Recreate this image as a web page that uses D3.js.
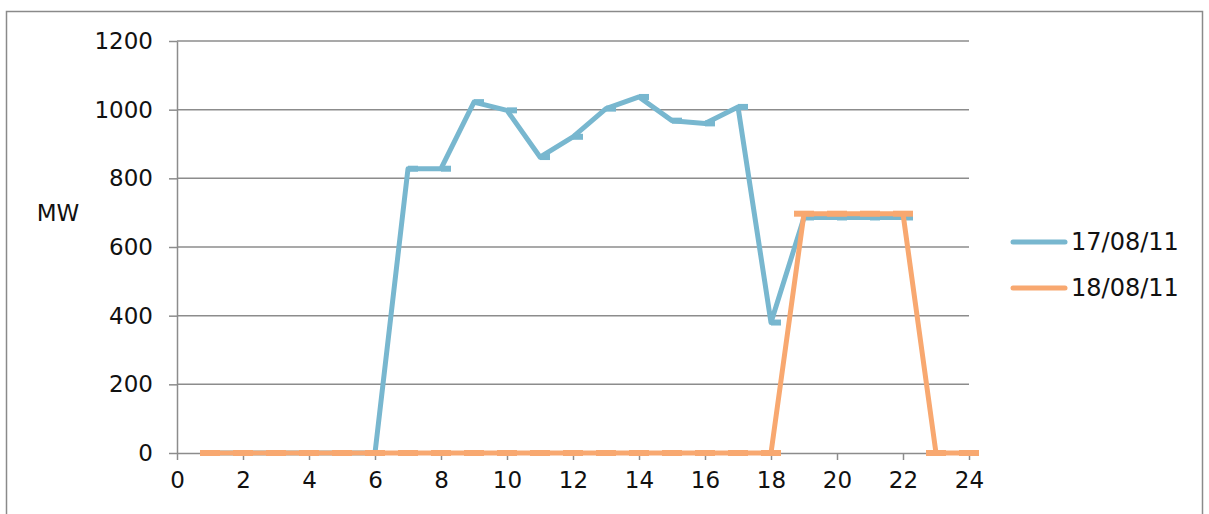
<!DOCTYPE html>
<html><head><meta charset="utf-8">
<script src="https://cdn.jsdelivr.net/npm/d3@7"></script>
<style>html,body{margin:0;padding:0;background:#fff;}svg{display:block;}</style>
</head><body>
<script>
const hours = [1,2,3,4,5,6,7,8,9,10,11,12,13,14,15,16,17,18,19,20,21,22,23,24];
const series1Name = "17/08/11";
const series1Values = [0,0,0,0,0,0,828,828,1022,998,862,921,1003,1037,968,960,1008,380,686,686,686,686,null,null];
const series2Name = "18/08/11";
const series2Values = [0,0,0,0,0,0,0,0,0,0,0,0,0,0,0,0,0,0,697,697,697,697,0,0];
const xTicks = [0,2,4,6,8,10,12,14,16,18,20,22,24];
const yTicks = [0,200,400,600,800,1000,1200];
const yLabel = "MW";

const W = 1209, H = 514;
const svg = d3.select("body").append("svg").attr("width", W).attr("height", H);
const font = "'DejaVu Sans', Verdana, sans-serif";

// outer border
svg.append("rect").attr("x", 6.5).attr("y", 11.5).attr("width", 1196).attr("height", 530)
  .attr("fill", "none").attr("stroke", "#8a8a8a").attr("stroke-width", 1.5);

const x = d3.scaleLinear().domain([0, 24]).range([177, 969]);
const y = d3.scaleLinear().domain([0, 1200]).range([453, 41]);

// gridlines
svg.append("g").selectAll("line").data(yTicks.filter(d => d > 0)).join("line")
  .attr("x1", x(0)).attr("x2", x(24)).attr("y1", d => y(d)).attr("y2", d => y(d))
  .attr("stroke", "#8c8c8c").attr("stroke-width", 1.5);

// y axis
const gy = svg.append("g").attr("transform", `translate(${x(0)},0)`)
  .call(d3.axisLeft(y).tickValues(yTicks).tickFormat(d3.format("d")).tickSize(8).tickPadding(16).tickSizeOuter(0));
gy.select(".domain").attr("stroke", "#8c8c8c").attr("stroke-width", 1.5);
gy.selectAll(".tick line").attr("stroke", "#8c8c8c").attr("stroke-width", 1.5);
gy.selectAll(".tick text").attr("font-family", font).attr("font-size", 23).attr("fill", "#111");

// x axis
const gx = svg.append("g").attr("transform", `translate(0,${y(0)})`)
  .call(d3.axisBottom(x).tickValues(xTicks).tickFormat(d3.format("d")).tickSize(7).tickPadding(12).tickSizeOuter(0));
gx.select(".domain").attr("stroke", "#8c8c8c").attr("stroke-width", 1.5);
gx.selectAll(".tick line").attr("stroke", "#8c8c8c").attr("stroke-width", 1.5);
gx.selectAll(".tick text").attr("font-family", font).attr("font-size", 23).attr("fill", "#111");

// y label
svg.append("text").attr("x", 58).attr("y", 213).attr("text-anchor", "middle")
  .attr("dominant-baseline", "central").attr("font-family", font).attr("font-size", 23)
  .attr("fill", "#111").text(yLabel);

const blue = "#78b7cf", orange = "#f8a870";

function drawSeries(vals, color, mLeft, mRight) {
  const pts = hours.map((h, i) => ({h, v: vals[i]})).filter(d => d.v !== null);
  const line = d3.line().x(d => x(d.h)).y(d => y(d.v));
  svg.append("path").datum(pts).attr("d", line).attr("fill", "none")
    .attr("stroke", color).attr("stroke-width", 5).attr("stroke-linejoin", "round");
  svg.append("g").selectAll("line").data(pts).join("line")
    .attr("x1", d => x(d.h) - mLeft).attr("x2", d => x(d.h) + mRight)
    .attr("y1", d => y(d.v)).attr("y2", d => y(d.v))
    .attr("stroke", color).attr("stroke-width", 6);
}
drawSeries(series1Values, blue, 0, 10);
drawSeries(series2Values, orange, 10, 10);

// legend
const legend = [[series1Name, blue, 242], [series2Name, orange, 288]];
legend.forEach(([name, c, ly]) => {
  svg.append("line").attr("x1", 1013).attr("x2", 1065).attr("y1", ly).attr("y2", ly)
    .attr("stroke", c).attr("stroke-width", 5).attr("stroke-linecap", "round");
  svg.append("text").attr("x", 1071).attr("y", ly).attr("dominant-baseline", "central")
    .attr("font-family", font).attr("font-size", 24).attr("fill", "#111").text(name);
});
</script>
</body></html>
